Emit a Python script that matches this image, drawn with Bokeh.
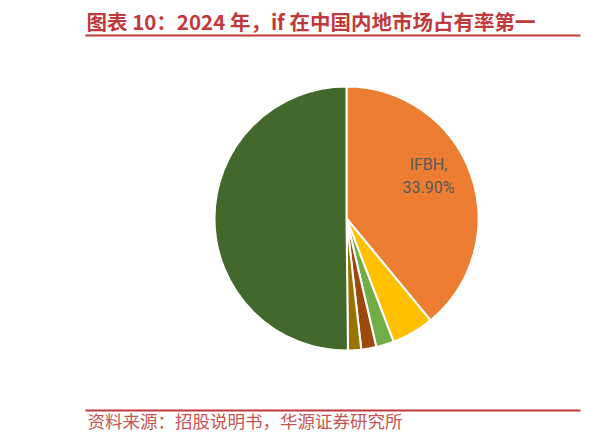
import math
from bokeh.plotting import figure
from bokeh.models import Range1d, ColumnDataSource
from bokeh.core.properties import value
from bokeh.embed import file_html
from bokeh.resources import INLINE

# ---- data ----
title_text = "图表 10：2024 年，if 在中国内地市场占有率第一"
source_text = "资料来源：招股说明书，华源证券研究所"
brands = ["IFBH", "2", "3", "4", "5", "6"]
shares = [33.9, 4.5, 1.9, 1.6, 1.4, 43.6]
colors = ["#ED7D31", "#FFC000", "#70AD47", "#9E480E", "#997300", "#43682B"]
label_brand = "IFBH"
label_pct = 33.90

W, H = 598, 440
RED = "#C0393B"

p = figure(width=W, height=H, x_range=Range1d(0, W), y_range=Range1d(0, H),
           output_backend="svg", toolbar_location=None, min_border=0,
           x_axis_type=None, y_axis_type=None, outline_line_color=None)
p.grid.visible = False
p.background_fill_color = "white"
p.border_fill_color = "white"

# pie
total = sum(shares)
starts, ends = [], []
acc = 0.0
for s in shares:
    a0 = math.pi / 2 - 2 * math.pi * acc / total
    acc += s
    a1 = math.pi / 2 - 2 * math.pi * acc / total
    starts.append(a0)
    ends.append(a1)
cx, cy, r = 346, 222, 132
src = ColumnDataSource(dict(start=starts, end=ends, color=colors, brand=brands, share=shares))
p.wedge(x=cx, y=cy, radius=r, start_angle="start", end_angle="end", direction="clock",
        fill_color="color", line_color="white", line_width=2, source=src)

# label
p.text(x=[428, 428], y=[276, 253], text=[label_brand + ",", f"{label_pct:.2f}%"],
       text_font=value("Roboto"), text_font_size="16px",
       text_color="#595959", text_align="center", text_baseline="middle")

# title
p.text(x=[86], y=[420], text=[title_text], text_font=value("Noto Sans CJK SC"),
       text_font_size="20.5px", text_font_style="bold", text_color=RED,
       text_align="left", text_baseline="middle")
p.segment(x0=[85], y0=[405], x1=[580], y1=[405], line_color=RED, line_width=2)

# footer
p.segment(x0=[85], y0=[30], x1=[580], y1=[30], line_color=RED, line_width=2)
p.text(x=[87], y=[20], text=[source_text], text_font=value("Noto Sans CJK SC"),
       text_font_size="17.5px", text_color="#C45552",
       text_align="left", text_baseline="middle")

open("out.html", "w").write(file_html(p, INLINE))
